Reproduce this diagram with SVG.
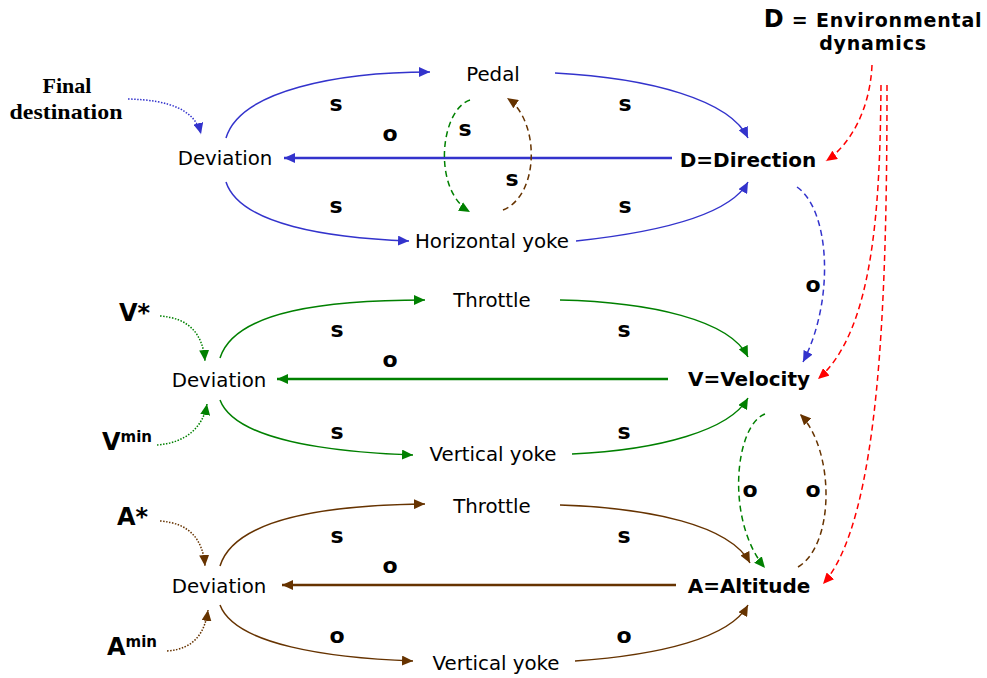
<svg xmlns="http://www.w3.org/2000/svg" width="987" height="678" viewBox="0 0 987 678">
<style>
.t{font-family:"DejaVu Sans",Verdana,sans-serif;font-size:19.8px;fill:#000}
.b{font-family:"DejaVu Sans",Verdana,sans-serif;font-weight:bold;fill:#000}
.l{font-family:"DejaVu Sans",Verdana,sans-serif;font-weight:bold;font-size:22px;fill:#000;text-anchor:middle}
.fs{font-family:"Liberation Serif","Times New Roman",serif;font-weight:bold;font-size:22px;fill:#000}
.c{fill:none;stroke-width:1.5}
.h{fill:none;stroke-width:2.5}
.blue{stroke:#3333cc}.green{stroke:#008000}.brown{stroke:#663300}.red{stroke:#ff0000}
.dash{stroke-dasharray:6,4}
.dot{stroke-dasharray:1.5,1.5}
</style>
<defs>
<marker id="ab" markerUnits="userSpaceOnUse" markerWidth="12" markerHeight="10" refX="11" refY="5" orient="auto"><path d="M0,0 L11,5 L0,10 z" fill="#3333cc"/></marker>
<marker id="ag" markerUnits="userSpaceOnUse" markerWidth="12" markerHeight="10" refX="11" refY="5" orient="auto"><path d="M0,0 L11,5 L0,10 z" fill="#008000"/></marker>
<marker id="an" markerUnits="userSpaceOnUse" markerWidth="12" markerHeight="10" refX="11" refY="5" orient="auto"><path d="M0,0 L11,5 L0,10 z" fill="#663300"/></marker>
<marker id="ar" markerUnits="userSpaceOnUse" markerWidth="12" markerHeight="10" refX="11" refY="5" orient="auto"><path d="M0,0 L11,5 L0,10 z" fill="#ff0000"/></marker>
</defs>

<g id="connectors">
<!-- top block -->
<path class="c blue dot" d="M128,99 C170,100 195,110 201,134" marker-end="url(#ab)"/>
<path class="c blue" d="M226,138 C240,90 340,72 430,72" marker-end="url(#ab)"/>
<path class="c blue" d="M555,73 C650,78 730,100 748,138" marker-end="url(#ab)"/>
<path class="c blue" d="M226,182 C240,225 330,238 409,241" marker-end="url(#ab)"/>
<path class="c blue" d="M576,241 C660,232 730,215 748,182" marker-end="url(#ab)"/>
<path class="h blue" d="M672,158 L284,158" marker-end="url(#ab)"/>
<path class="c green dash" d="M470,100 C440,110 432,190 470,212" marker-end="url(#ag)"/>
<path class="c brown dash" d="M503,210 C540,195 540,120 507,98" marker-end="url(#an)"/>
<path class="c blue dash" d="M797,187 C830,210 835,300 803,362" marker-end="url(#ab)"/>
<!-- red -->
<path class="c red dash" d="M872,65 C870,110 850,145 826,161" marker-end="url(#ar)"/>
<path class="c red dash" d="M881,85 C880,200 875,330 818,379" marker-end="url(#ar)"/>
<path class="c red dash" d="M887,85 C887,300 880,520 823,584" marker-end="url(#ar)"/>
<!-- middle block -->
<path class="c green dot" d="M160,316 C190,318 203,335 205,361" marker-end="url(#ag)"/>
<path class="c green dot" d="M157,445 C185,443 203,428 207,404" marker-end="url(#ag)"/>
<path class="c green" d="M220,358 C235,310 330,300 425,300" marker-end="url(#ag)"/>
<path class="c green" d="M560,300 C650,302 730,320 748,357" marker-end="url(#ag)"/>
<path class="c green" d="M220,400 C235,440 330,452 413,455" marker-end="url(#ag)"/>
<path class="c green" d="M572,454 C660,450 730,430 748,398" marker-end="url(#ag)"/>
<path class="h green" d="M668,379 L277,379" marker-end="url(#ag)"/>
<path class="c green dash" d="M765,414 C735,425 725,520 765,568" marker-end="url(#ag)"/>
<path class="c brown dash" d="M798,567 C835,545 835,450 800,414" marker-end="url(#an)"/>
<!-- bottom block -->
<path class="c brown dot" d="M160,521 C190,523 203,540 205,566" marker-end="url(#an)"/>
<path class="c brown dot" d="M167,651 C195,649 205,632 208,610" marker-end="url(#an)"/>
<path class="c brown" d="M220,566 C235,517 330,505 425,504" marker-end="url(#an)"/>
<path class="c brown" d="M560,505 C650,508 730,525 750,563" marker-end="url(#an)"/>
<path class="c brown" d="M220,605 C235,645 330,658 413,661" marker-end="url(#an)"/>
<path class="c brown" d="M575,661 C660,655 730,638 748,605" marker-end="url(#an)"/>
<path class="h brown" d="M676,585 L282,585" marker-end="url(#an)"/>
</g>

<g id="final-destination">
<text class="fs" x="67" y="93" text-anchor="middle">Final</text>
<text class="fs" x="66" y="119" text-anchor="middle" textLength="113" lengthAdjust="spacingAndGlyphs">destination</text>
</g>
<g id="env-dynamics">
<text class="b" x="873" y="27" text-anchor="middle" letter-spacing="0.8"><tspan font-size="24">D</tspan><tspan font-size="19"> = Environmental</tspan></text>
<text class="b" x="873" y="50" text-anchor="middle" font-size="19" letter-spacing="0.8">dynamics</text>
</g>

<g id="dev-top"><text class="t" x="225" y="165" text-anchor="middle">Deviation</text></g>
<g id="pedal"><text class="t" x="493" y="81" text-anchor="middle">Pedal</text></g>
<g id="hyoke"><text class="t" x="492" y="248" text-anchor="middle">Horizontal yoke</text></g>
<g id="direction"><text class="b" x="748" y="167" text-anchor="middle" font-size="20">D=Direction</text></g>

<g id="vstar"><text class="b" x="119" y="321" font-size="24">V*</text></g>
<g id="vmin"><text class="b" x="102" y="450" font-size="24">V<tspan font-size="15" dy="-8">min</tspan></text></g>
<g id="dev-mid"><text class="t" x="219" y="387" text-anchor="middle">Deviation</text></g>
<g id="throttle-mid"><text class="t" x="492" y="307" text-anchor="middle">Throttle</text></g>
<g id="vyoke-mid"><text class="t" x="493" y="461" text-anchor="middle">Vertical yoke</text></g>
<g id="velocity"><text class="b" x="749" y="386" text-anchor="middle" font-size="20">V=Velocity</text></g>

<g id="astar"><text class="b" x="117" y="525" font-size="24">A*</text></g>
<g id="amin"><text class="b" x="107" y="655" font-size="24">A<tspan font-size="15" dy="-8">min</tspan></text></g>
<g id="dev-bot"><text class="t" x="219" y="593" text-anchor="middle">Deviation</text></g>
<g id="throttle-bot"><text class="t" x="492" y="513" text-anchor="middle">Throttle</text></g>
<g id="vyoke-bot"><text class="t" x="496" y="670" text-anchor="middle">Vertical yoke</text></g>
<g id="altitude"><text class="b" x="749" y="593" text-anchor="middle" font-size="20">A=Altitude</text></g>

<g id="labels">
<text class="l" x="336" y="111">s</text>
<text class="l" x="390" y="141">o</text>
<text class="l" x="465" y="136">s</text>
<text class="l" x="512" y="186">s</text>
<text class="l" x="625" y="111">s</text>
<text class="l" x="336" y="213">s</text>
<text class="l" x="625" y="213">s</text>
<text class="l" x="813" y="292">o</text>
<text class="l" x="337" y="337">s</text>
<text class="l" x="624" y="337">s</text>
<text class="l" x="390" y="367">o</text>
<text class="l" x="337" y="439">s</text>
<text class="l" x="624" y="439">s</text>
<text class="l" x="750" y="497">o</text>
<text class="l" x="813" y="497">o</text>
<text class="l" x="337" y="543">s</text>
<text class="l" x="624" y="543">s</text>
<text class="l" x="390" y="573">o</text>
<text class="l" x="337" y="643">o</text>
<text class="l" x="624" y="643">o</text>
</g>
</svg>
